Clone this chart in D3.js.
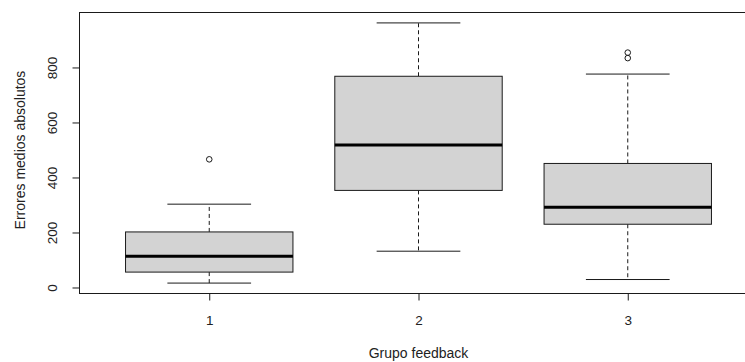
<!DOCTYPE html>
<html>
<head>
<meta charset="utf-8">
<script src="https://cdn.jsdelivr.net/npm/d3@7"></script>
<style>
  body { margin: 0; background: #fff; }
  svg { display: block; font-family: "Liberation Sans", Arial, sans-serif; }
</style>
</head>
<body>
<div class="chart"></div>
<script>
// Boxplot statistics
const groups = ["1", "2", "3"];
const lowerWhisker = [16, 132, 29];
const q1 = [56, 353, 230];
const medians = [114, 518, 292];
const q3 = [202, 768, 451];
const upperWhisker = [303, 962, 776];
const outliers = [[466], [], [834, 854]];
const yTicks = [0, 200, 400, 600, 800];

const W = 745, H = 362;
const margin = { left: 79.5, top: 12.5, bottom: 68.5 };
const plotRight = 757.5; // the frame runs past the right edge of the image

const svg = d3.select(".chart").append("svg")
    .attr("width", W)
    .attr("height", H);

const boxes = groups.map((g, i) => ({
    g: g, i: i + 1,
    lo: lowerWhisker[i], q1: q1[i], med: medians[i], q3: q3[i], hi: upperWhisker[i],
    out: outliers[i]
}));

// R-style 4% extension of the data range
const allVals = lowerWhisker.concat(upperWhisker, outliers.flat());
const yMin = d3.min(allVals), yMax = d3.max(allVals);
const pad = (yMax - yMin) * 0.04;

const x = d3.scaleLinear()
    .domain([0.38, groups.length + 0.62])
    .range([margin.left, plotRight]);
const y = d3.scaleLinear()
    .domain([yMin - pad, yMax + pad])
    .range([H - margin.bottom, margin.top]);

const boxHalf = 0.4, capHalf = 0.2;
const ink = "#1a1a1a";

const g = svg.append("g");

// whiskers (dashed)
g.selectAll(".whisker-up").data(boxes).enter().append("line")
    .attr("x1", d => x(d.i)).attr("x2", d => x(d.i))
    .attr("y1", d => y(d.q3)).attr("y2", d => y(d.hi))
    .attr("stroke", ink).attr("stroke-dasharray", "4,3");
g.selectAll(".whisker-down").data(boxes).enter().append("line")
    .attr("x1", d => x(d.i)).attr("x2", d => x(d.i))
    .attr("y1", d => y(d.q1)).attr("y2", d => y(d.lo))
    .attr("stroke", ink).attr("stroke-dasharray", "4,3");

// staples
g.selectAll(".cap-hi").data(boxes).enter().append("line")
    .attr("x1", d => x(d.i - capHalf)).attr("x2", d => x(d.i + capHalf))
    .attr("y1", d => y(d.hi)).attr("y2", d => y(d.hi))
    .attr("stroke", ink);
g.selectAll(".cap-lo").data(boxes).enter().append("line")
    .attr("x1", d => x(d.i - capHalf)).attr("x2", d => x(d.i + capHalf))
    .attr("y1", d => y(d.lo)).attr("y2", d => y(d.lo))
    .attr("stroke", ink);

// boxes
g.selectAll(".box").data(boxes).enter().append("rect")
    .attr("x", d => x(d.i - boxHalf))
    .attr("width", d => x(d.i + boxHalf) - x(d.i - boxHalf))
    .attr("y", d => y(d.q3))
    .attr("height", d => y(d.q1) - y(d.q3))
    .attr("fill", "#d3d3d3")
    .attr("stroke", ink);

// medians
g.selectAll(".median").data(boxes).enter().append("line")
    .attr("x1", d => x(d.i - boxHalf)).attr("x2", d => x(d.i + boxHalf))
    .attr("y1", d => y(d.med)).attr("y2", d => y(d.med))
    .attr("stroke", "#000").attr("stroke-width", 3);

// outliers
boxes.forEach(d => {
    g.selectAll(null).data(d.out).enter().append("circle")
        .attr("cx", x(d.i))
        .attr("cy", v => y(v))
        .attr("r", 2.8)
        .attr("fill", "none")
        .attr("stroke", ink);
});

// frame
svg.append("rect")
    .attr("x", margin.left).attr("y", margin.top)
    .attr("width", plotRight - margin.left)
    .attr("height", H - margin.bottom - margin.top)
    .attr("fill", "none")
    .attr("stroke", ink);

// axes
const yAxis = d3.axisLeft(y).tickValues(yTicks).tickSize(7).tickPadding(0).tickFormat(d3.format("d"));
const yg = svg.append("g")
    .attr("transform", "translate(" + margin.left + ",0)")
    .call(yAxis);
yg.select(".domain").remove();
yg.selectAll(".tick line").attr("stroke", ink);
yg.selectAll(".tick text")
    .attr("x", null).attr("dy", null)
    .attr("transform", "translate(-27,0) rotate(-90)")
    .attr("text-anchor", "middle")
    .attr("dy", "0.35em")
    .attr("font-size", 13.5)
    .attr("fill", "#222");
yg.append("line")
    .attr("y1", y(yTicks[0])).attr("y2", y(yTicks[yTicks.length - 1]))
    .attr("stroke", ink);

const xAxis = d3.axisBottom(x).tickValues(boxes.map(d => d.i)).tickSize(7)
    .tickFormat((d, i) => groups[i]);
const xg = svg.append("g")
    .attr("transform", "translate(0," + (H - margin.bottom) + ")")
    .call(xAxis);
xg.select(".domain").remove();
xg.selectAll(".tick line").attr("stroke", ink);
xg.selectAll(".tick text")
    .attr("y", 26.5).attr("dy", "0.35em")
    .attr("font-size", 13.5)
    .attr("fill", "#222");

// axis titles
svg.append("text")
    .attr("x", x(2)).attr("y", 358)
    .attr("text-anchor", "middle")
    .attr("font-size", 14).attr("fill", "#222")
    .text("Grupo feedback");
svg.append("text")
    .attr("transform", "translate(20,150) rotate(-90)")
    .attr("dy", "0.35em")
    .attr("text-anchor", "middle")
    .attr("font-size", 14).attr("fill", "#222")
    .text("Errores medios absolutos");
</script>
</body>
</html>
